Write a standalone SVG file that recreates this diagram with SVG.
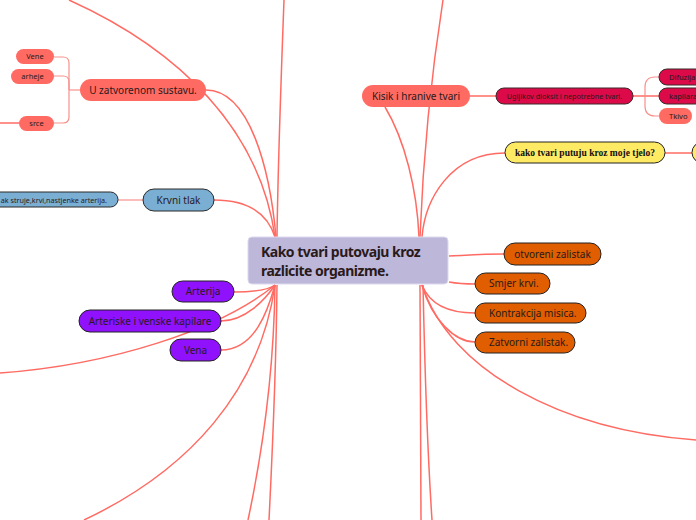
<svg xmlns="http://www.w3.org/2000/svg" width="696" height="520" viewBox="0 0 696 520">
<style>
.c{fill:none;stroke:#ff6b63;stroke-width:1.5}
.b{fill:none;stroke:#f9918b;stroke-width:1.2}
.t{font-family:"Noto Sans","Open Sans","Liberation Sans",sans-serif;fill:#2a1a1a}
.salmon{fill:#ff6b63}
.blue{fill:#7aaed3;stroke:#2b2b2b;stroke-width:1}
.purple{fill:#9012fc;stroke:#222;stroke-width:1}
.crim{fill:#dc0a48;stroke:#3a2a2a;stroke-width:1}
.yel{fill:#ffea63;stroke:#222;stroke-width:1}
.orng{fill:#e05d00;stroke:#222;stroke-width:1}
</style>
<rect width="696" height="520" fill="#ffffff"/>
<g id="connectors">
<path class="c" d="M206,90 C250,90 270,170 276,237"/>
<path class="c" d="M69,0 C180,50 260,130 275,237"/>
<path class="c" d="M284,0 C281,80 278,160 277,237"/>
<path class="c" d="M214,200 C250,200 268,215 275,237"/>
<path class="c" d="M234,292 C255,292 268,290 275,285"/>
<path class="c" d="M221,321 C245,321 265,300 275,285"/>
<path class="c" d="M0,373 C110,365 220,330 275,285"/>
<path class="c" d="M221,350 C255,350 268,310 275,285"/>
<path class="c" d="M84,520 C190,470 260,390 275,285"/>
<path class="c" d="M275,285 C274,360 265,440 248,520"/>
<path class="c" d="M277,285 C276,380 272,460 269,520"/>
<path class="c" d="M385,107 C405,140 417,190 419,237"/>
<path class="c" d="M443,0 C432,70 423,160 420,237"/>
<path class="c" d="M505,153 C450,153 425,200 422,237"/>
<path class="c" d="M449,256 C470,255 485,254 504,254"/>
<path class="c" d="M449,282 C460,284 468,284 475,284"/>
<path class="c" d="M422,285 C430,305 450,313 475,313"/>
<path class="c" d="M422,285 C432,320 455,342 475,342"/>
<path class="c" d="M422,285 C450,370 560,430 696,440"/>
<path class="c" d="M420,285 L421,520"/>
<path class="c" d="M423,285 C425,380 428,460 432,520"/>
<path class="c" d="M470,96 H496"/>
<path class="c" d="M665,153 H692"/>
<path class="c" d="M0,123 H19"/>
<path class="b" d="M118,200 H143"/>
<path class="b" d="M54,57 H63 Q69,57 69,63 V117 Q69,123 63,123 H54"/>
<path class="b" d="M54,76 H63 Q69,76 69,82 V90"/>
<path class="b" d="M69,90 H80"/>
<path class="c" d="M633,96 H659"/>
<path class="b" d="M659,77 H655 Q645,77 645,87 V106 Q645,116 655,116 H659"/>
</g>
<g id="central">
<rect x="248" y="237" width="200" height="47" rx="4" fill="#bdb7da" stroke="#dcd8ec" stroke-width="1"/>
<text class="t" x="261" y="257" font-size="14" font-weight="bold" letter-spacing="-0.5" fill="#111">Kako tvari putovaju kroz</text>
<text class="t" x="261" y="276" font-size="14" font-weight="bold" letter-spacing="-0.5" fill="#111">razlicite organizme.</text>
</g>
<g id="u-zatvorenom">
<rect class="salmon" x="80" y="79" width="126" height="22" rx="11"/>
<text class="t" x="143" y="93.5" font-size="10" text-anchor="middle">U zatvorenom sustavu.</text>
</g>
<g id="vene">
<rect class="salmon" x="16" y="49" width="38" height="15" rx="7.5"/>
<text class="t" x="35" y="59" font-size="7.5" text-anchor="middle">Vene</text>
</g>
<g id="arheje">
<rect class="salmon" x="11" y="69" width="43" height="15" rx="7.5"/>
<text class="t" x="32.5" y="79" font-size="7.5" text-anchor="middle">arheje</text>
</g>
<g id="srce">
<rect class="salmon" x="19" y="116" width="35" height="15" rx="7.5"/>
<text class="t" x="36.5" y="126" font-size="7.5" text-anchor="middle">srce</text>
</g>
<g id="krvni-tlak">
<rect class="blue" x="143" y="189" width="71" height="22" rx="11"/>
<text class="t" x="178.5" y="203.5" font-size="10" text-anchor="middle">Krvni tlak</text>
</g>
<g id="krvni-detail">
<rect class="blue" x="-60" y="192" width="178" height="15" rx="7.5"/>
<text class="t" x="107" y="202.5" font-size="7.2" text-anchor="end">ak struje,krvi,nastjenke arterija.</text>
</g>
<g id="arterija">
<rect class="purple" x="172" y="281" width="62" height="21" rx="10.5"/>
<text class="t" x="203" y="295" font-size="10" text-anchor="middle">Arterija</text>
</g>
<g id="kapilare">
<rect class="purple" x="79" y="310" width="142" height="22" rx="11"/>
<text class="t" x="150" y="324.5" font-size="10" text-anchor="middle">Arteriske i venske kapilare</text>
</g>
<g id="vena">
<rect class="purple" x="170" y="339" width="51" height="22" rx="11"/>
<text class="t" x="195.5" y="353.5" font-size="10" text-anchor="middle">Vena</text>
</g>
<g id="kisik">
<rect class="salmon" x="362" y="85" width="108" height="22" rx="11"/>
<text class="t" x="416" y="99.5" font-size="10" text-anchor="middle">Kisik i hranive tvari</text>
</g>
<g id="ugljikov">
<rect class="crim" x="496" y="88" width="137" height="16" rx="8"/>
<text class="t" x="564.5" y="98.5" font-size="7.2" text-anchor="middle">Ugljikov dioksit i nepotrebne tvari.</text>
</g>
<g id="difuzija">
<rect class="crim" x="659" y="69" width="60" height="16" rx="8"/>
<text class="t" x="669" y="79.5" font-size="7.5">Difuzija</text>
</g>
<g id="kapilara">
<rect class="crim" x="659" y="88" width="60" height="16" rx="8"/>
<text class="t" x="669" y="98.5" font-size="7.5">kapilara</text>
</g>
<g id="tkivo">
<rect class="salmon" x="659" y="108" width="33" height="16" rx="8"/>
<text class="t" x="669" y="118.5" font-size="7.5">Tkivo</text>
</g>
<g id="kako-tijelo">
<rect class="yel" x="505" y="142" width="160" height="21" rx="10.5"/>
<text x="585" y="156" font-family="'Liberation Serif','Times New Roman',serif" font-weight="bold" font-size="9.5" text-anchor="middle" fill="#111">kako tvari putuju kroz moje tjelo?</text>
</g>
<g id="yellow-next">
<rect class="yel" x="692" y="142" width="40" height="21" rx="10.5"/>
</g>
<g id="otvoreni">
<rect class="orng" x="504" y="243" width="97" height="22" rx="11"/>
<text class="t" x="552.5" y="257.5" font-size="10" text-anchor="middle">otvoreni zalistak</text>
</g>
<g id="smjer">
<rect class="orng" x="475" y="273" width="75" height="21" rx="10.5"/>
<text class="t" x="489" y="287" font-size="10">Smjer krvi.</text>
</g>
<g id="kontrakcija">
<rect class="orng" x="475" y="303" width="111" height="20" rx="10"/>
<text class="t" x="489" y="316.5" font-size="10">Kontrakcija misica.</text>
</g>
<g id="zatvorni">
<rect class="orng" x="475" y="332" width="100" height="21" rx="10.5"/>
<text class="t" x="489" y="346" font-size="10">Zatvorni zalistak.</text>
</g>
</svg>
